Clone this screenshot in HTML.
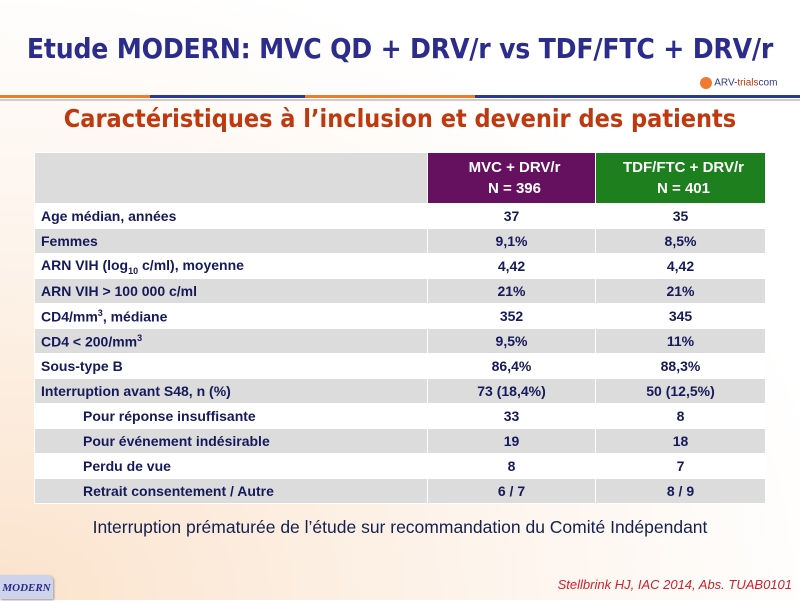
<!DOCTYPE html>
<html><head><meta charset="utf-8"><style>
body{margin:0;width:800px;height:600px;overflow:hidden;font-family:"Liberation Sans",sans-serif;position:relative;
background:radial-gradient(ellipse at 0% 100%,#fbe3cc 0%,#fdf3ea 40%,#ffffff 75%);}
.title{position:absolute;top:32px;left:0;width:800px;text-align:center;color:#2b2c8c;font-weight:bold;font-size:28px;font-family:"DejaVu Sans Condensed","Liberation Sans Narrow","Liberation Sans",sans-serif;letter-spacing:-0.2px}
.sub{position:absolute;top:104px;left:0;width:800px;text-align:center;color:#c0380e;font-weight:bold;font-size:25px;font-family:"DejaVu Sans Condensed","Liberation Sans Narrow","Liberation Sans",sans-serif}
.line{position:absolute;top:95px;height:3px;}
table{position:absolute;left:34px;top:152px;border-collapse:collapse;width:731px;table-layout:fixed;font-size:14px;font-weight:bold;color:#151a5a}
td{height:24px;padding:0 0 0 6px;border:1px solid #fff;}
td.c{text-align:center;padding:0}
tr:nth-child(odd) td{background:#dcdcdc}
tr:nth-child(even) td{background:#fff}
tr.h td{height:50px}
tr.h td.p{background:#66115f;color:#fff;text-align:center;font-size:15px;line-height:21px}
tr.h td.g{background:#1e7f1f;color:#fff;text-align:center;font-size:15px;line-height:21px}
.in{padding-left:48px!important}
.note{position:absolute;top:517px;left:0;width:800px;text-align:center;font-size:17.5px;color:#14204f}
.ref{position:absolute;top:577px;right:8px;color:#d0202a;font-style:italic;font-size:13px}
.mod{position:absolute;left:0;top:575px;width:53px;height:24px;background:#cdd3ea;border-radius:0 5px 0 0;color:#2a2a8a;font:italic bold 11px "Liberation Serif",serif;text-align:center;line-height:26px;box-shadow:1px 1px 2px #999}
.logo{position:absolute;top:77px;left:700px;font-size:10px;color:#c0380e}
</style></head><body>
<div class="title">Etude MODERN: MVC QD + DRV/r vs TDF/FTC + DRV/r</div>
<div class="line" style="left:0;width:150px;background:#f07a30"></div>
<div class="line" style="left:150px;width:155px;background:#2b3a8c"></div>
<div class="line" style="left:305px;width:170px;background:#f07a30"></div>
<div class="line" style="left:475px;width:325px;background:#2b3a8c"></div>
<div class="line" style="left:0;top:99px;width:800px;height:2px;background:#ccc"></div>
<div class="logo"><span style="display:inline-block;width:12px;height:12px;border-radius:6px;background:#f07a30;vertical-align:middle"></span> <span style="color:#2b3a8c">ARV-</span>trials<span style="color:#2b3a8c">com</span></div>
<div class="sub">Caractéristiques à l’inclusion et devenir des patients</div>
<table>
<colgroup><col style="width:393px"><col style="width:168px"><col style="width:170px"></colgroup>
<tr class="h"><td></td><td class="p">MVC + DRV/r<br>N = 396</td><td class="g">TDF/FTC + DRV/r<br>N = 401</td></tr>
<tr><td>Age médian, années</td><td class="c">37</td><td class="c">35</td></tr>
<tr><td>Femmes</td><td class="c">9,1%</td><td class="c">8,5%</td></tr>
<tr><td>ARN VIH (log<sub style="font-size:9px">10</sub> c/ml), moyenne</td><td class="c">4,42</td><td class="c">4,42</td></tr>
<tr><td>ARN VIH &gt; 100 000 c/ml</td><td class="c">21%</td><td class="c">21%</td></tr>
<tr><td>CD4/mm<sup style="font-size:9px">3</sup>, médiane</td><td class="c">352</td><td class="c">345</td></tr>
<tr><td>CD4 &lt; 200/mm<sup style="font-size:9px">3</sup></td><td class="c">9,5%</td><td class="c">11%</td></tr>
<tr><td>Sous-type B</td><td class="c">86,4%</td><td class="c">88,3%</td></tr>
<tr><td>Interruption avant S48, n (%)</td><td class="c">73 (18,4%)</td><td class="c">50 (12,5%)</td></tr>
<tr><td class="in">Pour réponse insuffisante</td><td class="c">33</td><td class="c">8</td></tr>
<tr><td class="in">Pour événement indésirable</td><td class="c">19</td><td class="c">18</td></tr>
<tr><td class="in">Perdu de vue</td><td class="c">8</td><td class="c">7</td></tr>
<tr><td class="in">Retrait consentement / Autre</td><td class="c">6 / 7</td><td class="c">8 / 9</td></tr>
</table>
<div class="note">Interruption prématurée de l’étude sur recommandation du Comité Indépendant</div>
<div class="mod">MODERN</div>
<div class="ref">Stellbrink HJ, IAC 2014, Abs. TUAB0101</div>
</body></html>
